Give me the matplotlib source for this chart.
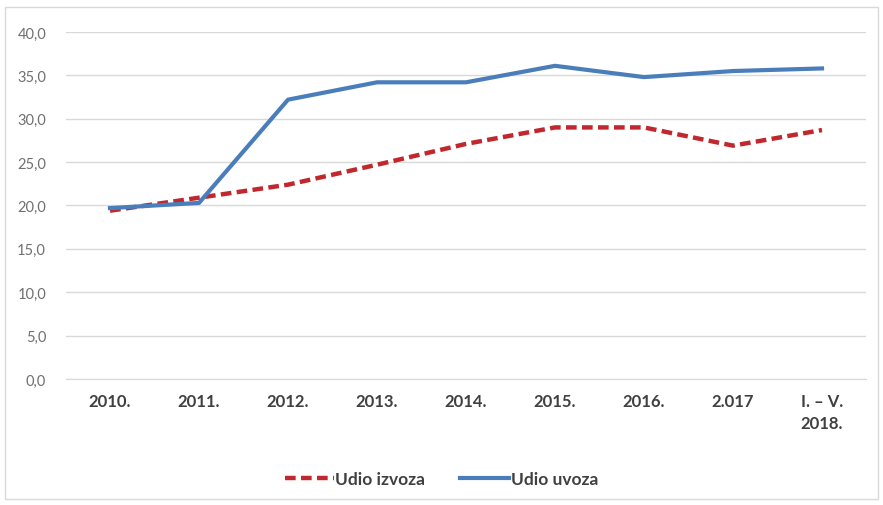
import matplotlib
matplotlib.use('Agg')
import matplotlib.pyplot as plt
from matplotlib.patches import Rectangle

# data
years = ['2010.', '2011.', '2012.', '2013.', '2014.', '2015.', '2016.', '2.017', 'I. – V.\n2018.']
udio_izvoza = [19.4, 20.9, 22.4, 24.7, 27.1, 29.0, 29.0, 26.9, 28.7]
udio_uvoza = [19.7, 20.3, 32.2, 34.2, 34.2, 36.1, 34.8, 35.5, 35.8]
y_ticks = [0, 5, 10, 15, 20, 25, 30, 35, 40]

plt.rcParams['font.family'] = ['Lato', 'DejaVu Sans']

fig = plt.figure(figsize=(8.83, 5.06), dpi=100)
fig.patches.append(Rectangle((0.006, 0.012), 0.988, 0.972, transform=fig.transFigure,
                             fill=False, edgecolor='#d9d9d9', linewidth=1))
ax = fig.add_axes([0.0742, 0.249, 0.9071, 0.6858])

x = list(range(len(years)))
ax.plot(x, udio_izvoza, color='#c0282d', linewidth=3.2, dashes=(2.4, 1.2), label='Udio izvoza')
ax.plot(x, udio_uvoza, color='#4a7ebb', linewidth=3.0, label='Udio uvoza')

ax.set_xlim(-0.5, len(years) - 0.5)
ax.set_ylim(0, 40)
ax.set_yticks(y_ticks)
ax.set_yticklabels([f'{v:.1f}'.replace('.', ',') for v in y_ticks], color='#707070', fontsize=10.5)
ax.set_xticks(x)
ax.set_xticklabels(years, fontsize=12, fontweight='bold', color='#404040', ha='center',
                   multialignment='right', linespacing=1.5)
ax.grid(axis='y', color='#d9d9d9', linewidth=1)
ax.set_axisbelow(True)
for s in ['top', 'right', 'left']:
    ax.spines[s].set_visible(False)
ax.spines['bottom'].set_color('#d9d9d9')
ax.tick_params(axis='x', length=0, pad=10)
ax.tick_params(axis='y', length=0, pad=14)

leg = fig.legend(loc='center', bbox_to_anchor=(0.5, 0.052), ncol=2, frameon=False,
                 fontsize=12.5, handlelength=2.8, columnspacing=2.0, handletextpad=0.1)
for t in leg.get_texts():
    t.set_color('#404040')
    t.set_fontweight('bold')

fig.savefig('out.png', dpi=100)
